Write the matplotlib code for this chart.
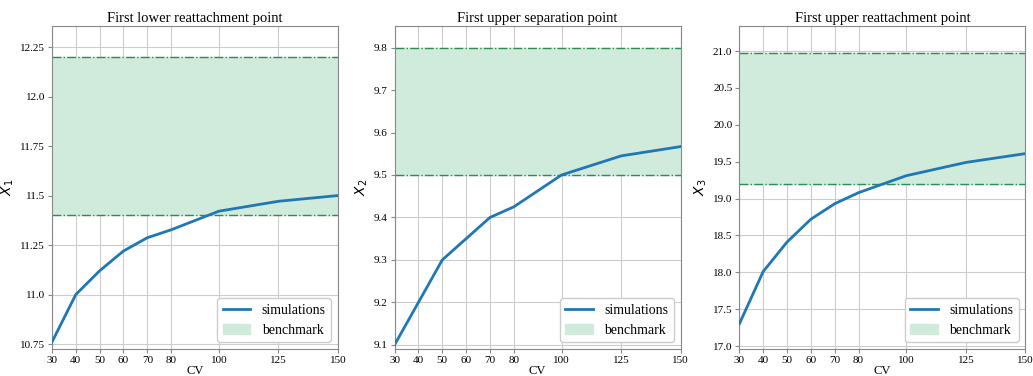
import matplotlib
matplotlib.use("Agg")
import matplotlib.pyplot as plt

plt.rcParams['font.family'] = ['Liberation Serif', 'DejaVu Serif']

cv = [30, 40, 50, 60, 70, 80, 100, 125, 150]
x1_sim = [10.76, 11.0, 11.12, 11.22, 11.287, 11.327, 11.421, 11.471, 11.5]
x2_sim = [9.1, 9.2, 9.3, 9.35, 9.4, 9.425, 9.5, 9.545, 9.567]
x3_sim = [17.3, 18.01, 18.41, 18.72, 18.93, 19.08, 19.31, 19.49, 19.61]

bench1 = (11.4, 12.2)
bench2 = (9.5, 9.8)
bench3 = (19.2, 20.97)

titles = ["First lower reattachment point", "First upper separation point",
          "First upper reattachment point"]
ylabels = ["$X_1$", "$X_2$", "$X_3$"]
yticks = [[10.75, 11.0, 11.25, 11.5, 11.75, 12.0, 12.25],
          [9.1, 9.2, 9.3, 9.4, 9.5, 9.6, 9.7, 9.8],
          [17.0, 17.5, 18.0, 18.5, 19.0, 19.5, 20.0, 20.5, 21.0]]
yticklabels = [["10.75", "11.0", "11.25", "11.5", "11.75", "12.0", "12.25"],
               ["9.1", "9.2", "9.3", "9.4", "9.5", "9.6", "9.7", "9.8"],
               ["17.0", "17.5", "18.0", "18.5", "19.0", "19.5", "20.0", "20.5", "21.0"]]
ylims = [(10.725, 12.356), (9.09, 9.851), (16.96, 21.34)]
sims = [x1_sim, x2_sim, x3_sim]
benches = [bench1, bench2, bench3]

fig = plt.figure(figsize=(10.33, 3.76), dpi=100)
lefts = [0.0503, 0.382, 0.7157]
for i in range(3):
    ax = fig.add_axes([lefts[i], 0.0718, 0.277, 0.859])
    lo, hi = benches[i]
    ax.axhspan(lo, hi, color='#d0ebdc', label='benchmark', zorder=1)
    ax.axhline(lo, color='seagreen', ls='-.', lw=1.0, zorder=2)
    ax.axhline(hi, color='seagreen', ls='-.', lw=1.0, zorder=2)
    ax.plot(cv, sims[i], color='#1f77b4', lw=2, label='simulations', zorder=3)
    ax.set_xlim(30, 150)
    ax.set_ylim(*ylims[i])
    ax.set_xticks(cv)
    ax.set_yticks(yticks[i])
    ax.set_yticklabels(yticklabels[i])
    ax.tick_params(labelsize=8, length=3, pad=2, color='#888888')
    ax.grid(True, color='#cccccc', lw=0.8, zorder=0)
    ax.set_axisbelow(True)
    for s in ax.spines.values():
        s.set_color('#888888')
    ax.set_title(titles[i], fontsize=10.5, pad=3)
    ax.set_xlabel("CV", fontsize=9, labelpad=0)
    ax.set_ylabel(ylabels[i], fontsize=10, labelpad=3)
    handles, labels = ax.get_legend_handles_labels()
    order = [labels.index('simulations'), labels.index('benchmark')]
    ax.legend([handles[j] for j in order], [labels[j] for j in order],
              loc='lower right', fontsize=10, framealpha=1.0)

fig.savefig("out.png", dpi=100)
